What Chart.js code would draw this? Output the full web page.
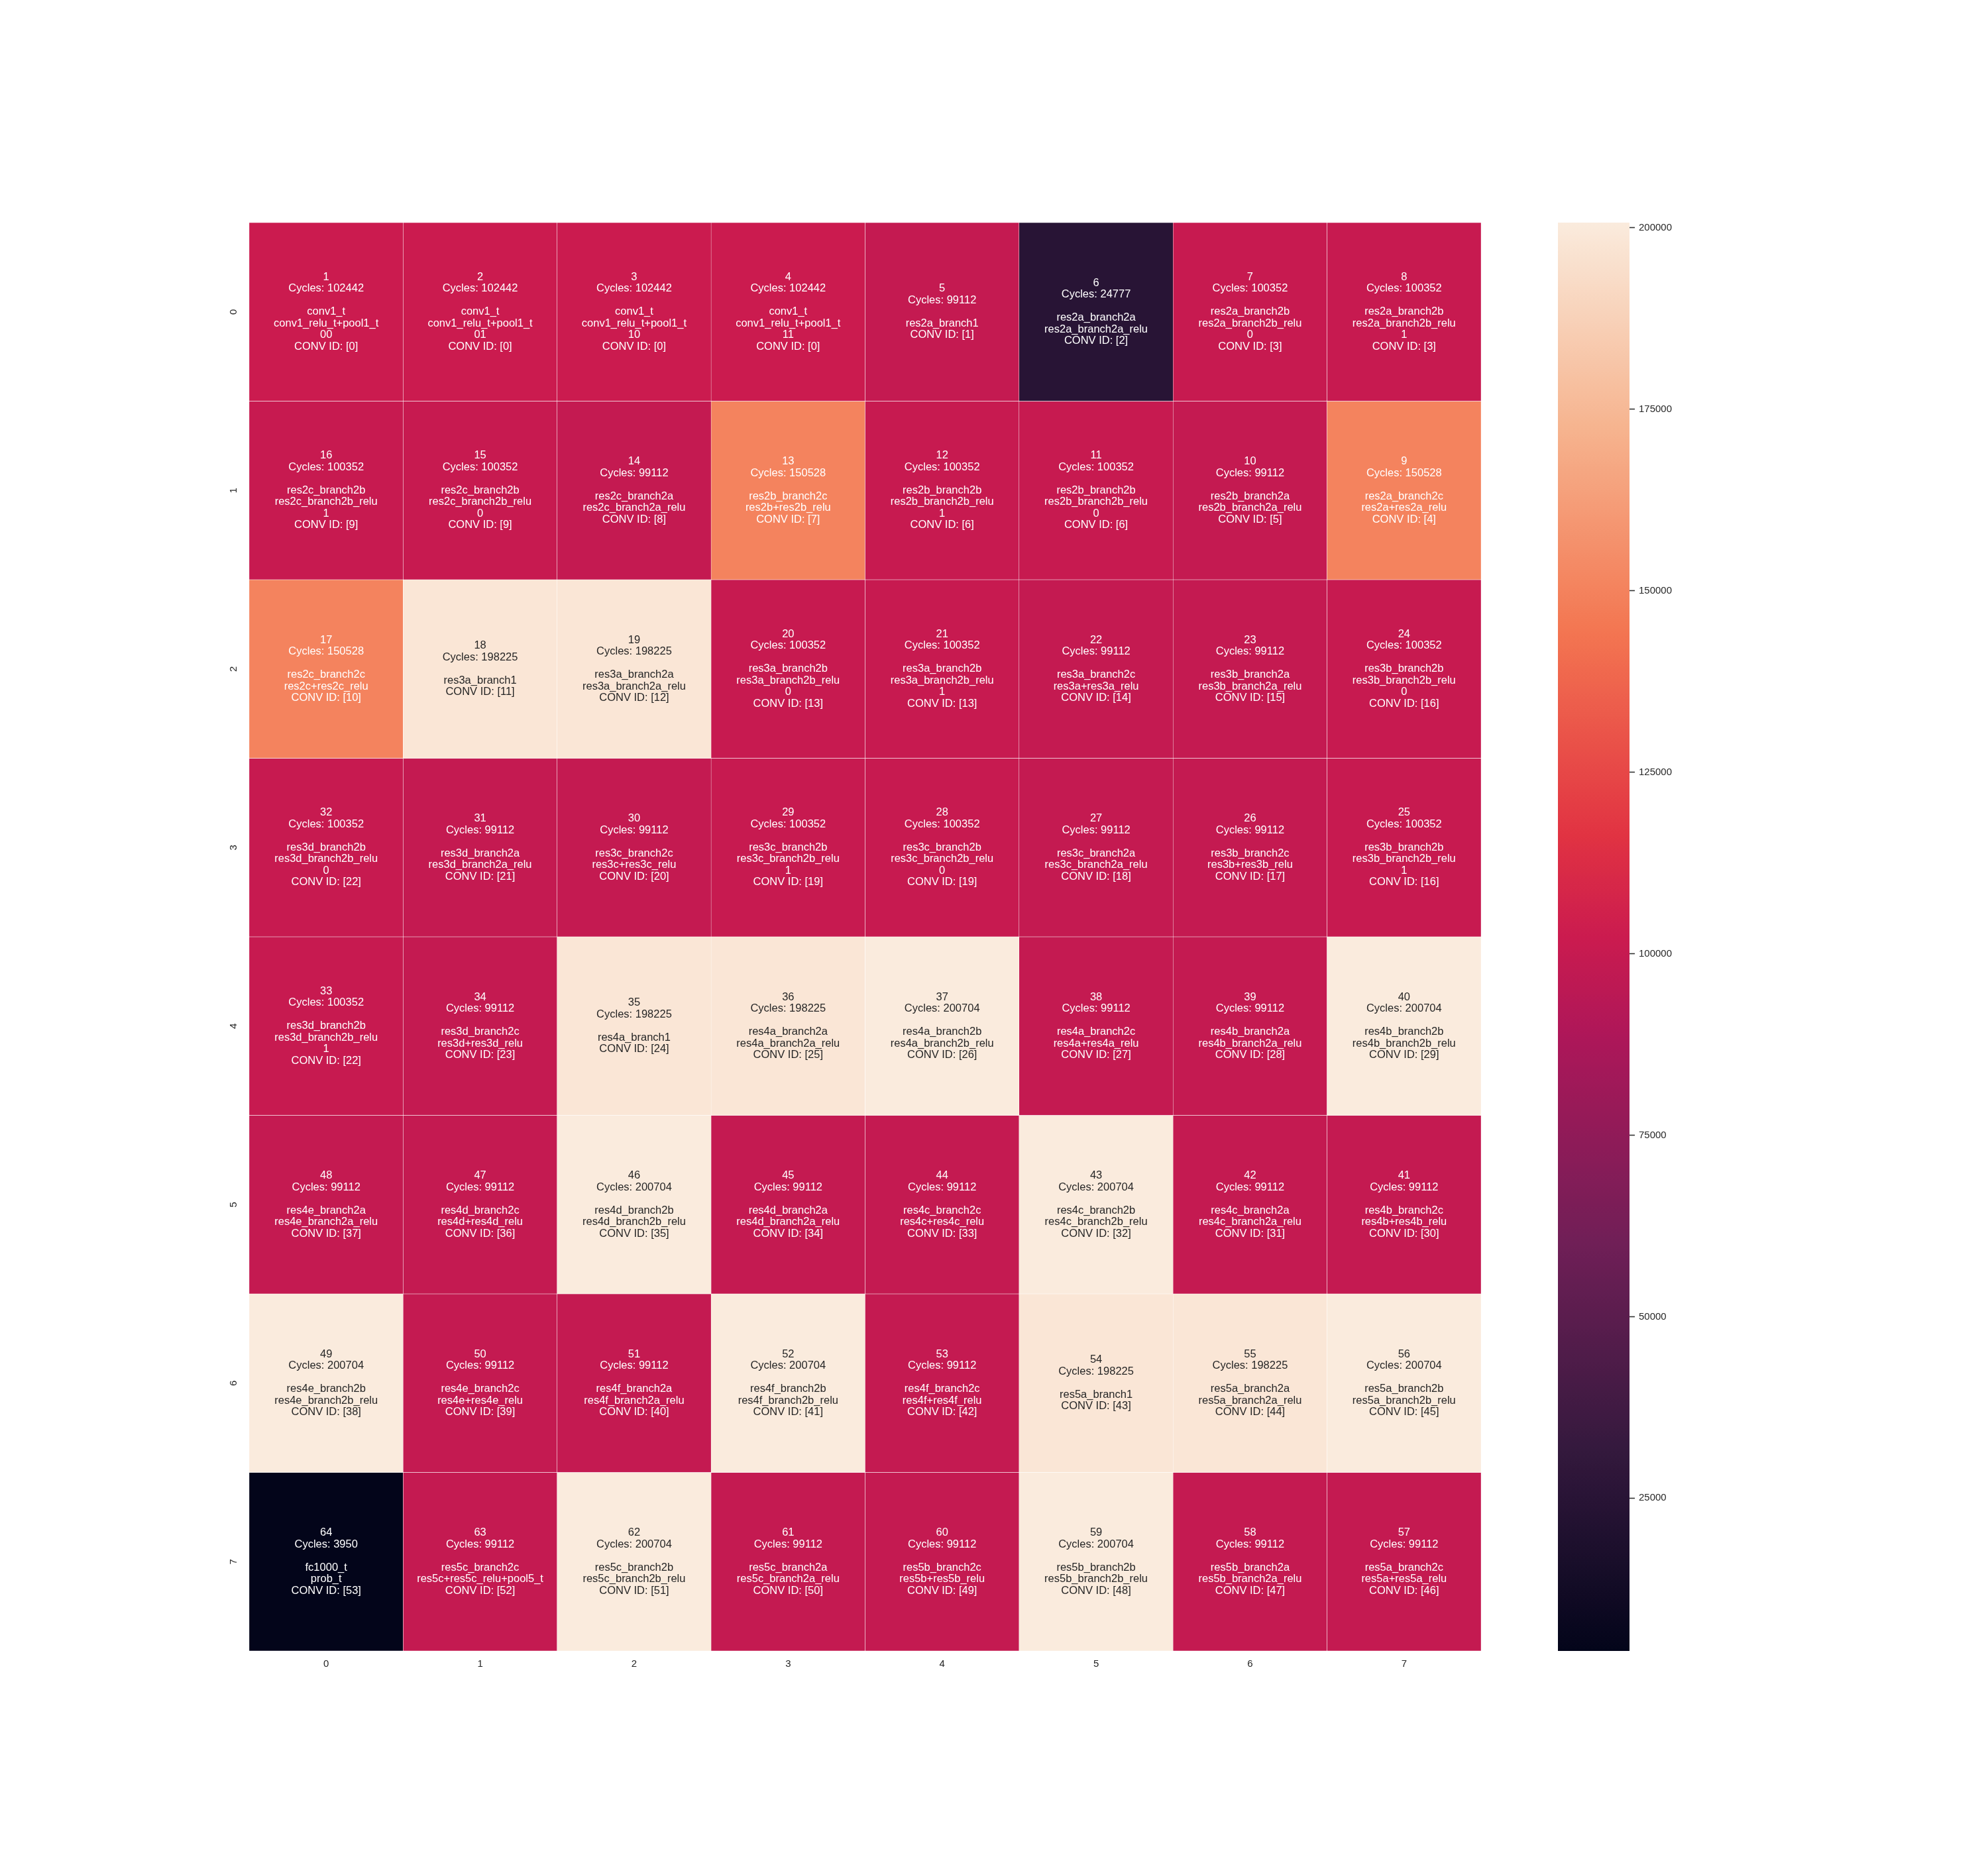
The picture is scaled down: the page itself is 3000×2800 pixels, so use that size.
<!DOCTYPE html>
<html><head><meta charset="utf-8">
<script src="https://cdn.jsdelivr.net/npm/chart.js@4.4.1/dist/chart.umd.min.js"></script>
<style>
html,body{margin:0;padding:0;background:#fff;}
#wrap{position:relative;width:3000px;height:2800px;background:#fff;}
#heat{position:absolute;left:0;top:0;}
#cbar{position:absolute;left:2300px;top:0;}
</style></head><body>
<div id="wrap">
<canvas id="heat" width="2300" height="2800"></canvas>
<canvas id="cbar" width="400" height="2800"></canvas>
</div>
<script>
const colLabels = ['0','1','2','3','4','5','6','7'];
const rowLabels = ['0','1','2','3','4','5','6','7'];

const order = [
  [1,2,3,4,5,6,7,8],
  [16,15,14,13,12,11,10,9],
  [17,18,19,20,21,22,23,24],
  [32,31,30,29,28,27,26,25],
  [33,34,35,36,37,38,39,40],
  [48,47,46,45,44,43,42,41],
  [49,50,51,52,53,54,55,56],
  [64,63,62,61,60,59,58,57]
];

const cycles = [
  [102442,102442,102442,102442,99112,24777,100352,100352],
  [100352,100352,99112,150528,100352,100352,99112,150528],
  [150528,198225,198225,100352,100352,99112,99112,100352],
  [100352,99112,99112,100352,100352,99112,99112,100352],
  [100352,99112,198225,198225,200704,99112,99112,200704],
  [99112,99112,200704,99112,99112,200704,99112,99112],
  [200704,99112,99112,200704,99112,198225,198225,200704],
  [3950,99112,200704,99112,99112,200704,99112,99112]
];

const layers = [
  ['conv1_t\nconv1_relu_t+pool1_t\n00','conv1_t\nconv1_relu_t+pool1_t\n01','conv1_t\nconv1_relu_t+pool1_t\n10','conv1_t\nconv1_relu_t+pool1_t\n11','res2a_branch1','res2a_branch2a\nres2a_branch2a_relu','res2a_branch2b\nres2a_branch2b_relu\n0','res2a_branch2b\nres2a_branch2b_relu\n1'],
  ['res2c_branch2b\nres2c_branch2b_relu\n1','res2c_branch2b\nres2c_branch2b_relu\n0','res2c_branch2a\nres2c_branch2a_relu','res2b_branch2c\nres2b+res2b_relu','res2b_branch2b\nres2b_branch2b_relu\n1','res2b_branch2b\nres2b_branch2b_relu\n0','res2b_branch2a\nres2b_branch2a_relu','res2a_branch2c\nres2a+res2a_relu'],
  ['res2c_branch2c\nres2c+res2c_relu','res3a_branch1','res3a_branch2a\nres3a_branch2a_relu','res3a_branch2b\nres3a_branch2b_relu\n0','res3a_branch2b\nres3a_branch2b_relu\n1','res3a_branch2c\nres3a+res3a_relu','res3b_branch2a\nres3b_branch2a_relu','res3b_branch2b\nres3b_branch2b_relu\n0'],
  ['res3d_branch2b\nres3d_branch2b_relu\n0','res3d_branch2a\nres3d_branch2a_relu','res3c_branch2c\nres3c+res3c_relu','res3c_branch2b\nres3c_branch2b_relu\n1','res3c_branch2b\nres3c_branch2b_relu\n0','res3c_branch2a\nres3c_branch2a_relu','res3b_branch2c\nres3b+res3b_relu','res3b_branch2b\nres3b_branch2b_relu\n1'],
  ['res3d_branch2b\nres3d_branch2b_relu\n1','res3d_branch2c\nres3d+res3d_relu','res4a_branch1','res4a_branch2a\nres4a_branch2a_relu','res4a_branch2b\nres4a_branch2b_relu','res4a_branch2c\nres4a+res4a_relu','res4b_branch2a\nres4b_branch2a_relu','res4b_branch2b\nres4b_branch2b_relu'],
  ['res4e_branch2a\nres4e_branch2a_relu','res4d_branch2c\nres4d+res4d_relu','res4d_branch2b\nres4d_branch2b_relu','res4d_branch2a\nres4d_branch2a_relu','res4c_branch2c\nres4c+res4c_relu','res4c_branch2b\nres4c_branch2b_relu','res4c_branch2a\nres4c_branch2a_relu','res4b_branch2c\nres4b+res4b_relu'],
  ['res4e_branch2b\nres4e_branch2b_relu','res4e_branch2c\nres4e+res4e_relu','res4f_branch2a\nres4f_branch2a_relu','res4f_branch2b\nres4f_branch2b_relu','res4f_branch2c\nres4f+res4f_relu','res5a_branch1','res5a_branch2a\nres5a_branch2a_relu','res5a_branch2b\nres5a_branch2b_relu'],
  ['fc1000_t\nprob_t','res5c_branch2c\nres5c+res5c_relu+pool5_t','res5c_branch2b\nres5c_branch2b_relu','res5c_branch2a\nres5c_branch2a_relu','res5b_branch2c\nres5b+res5b_relu','res5b_branch2b\nres5b_branch2b_relu','res5b_branch2a\nres5b_branch2a_relu','res5a_branch2c\nres5a+res5a_relu']
];

const convIds = [
  [0,0,0,0,1,2,3,3],
  [9,9,8,7,6,6,5,4],
  [10,11,12,13,13,14,15,16],
  [22,21,20,19,19,18,17,16],
  [22,23,24,25,26,27,28,29],
  [37,36,35,34,33,32,31,30],
  [38,39,40,41,42,43,44,45],
  [53,52,51,50,49,48,47,46]
];

const cbTicks = [25000,50000,75000,100000,125000,150000,175000,200000];

// rocket colormap anchors
const rocketStops = [
  [0.0,[3,5,26]],
  [0.1429,[53,25,62]],
  [0.2857,[112,31,87]],
  [0.4286,[173,23,89]],
  [0.5,[203,27,79]],
  [0.5714,[225,51,66]],
  [0.7143,[243,118,81]],
  [0.8571,[246,180,143]],
  [1.0,[250,235,221]]
];
function rocket(t){
  t = Math.max(0, Math.min(1, t));
  for (let k = 1; k < rocketStops.length; k++){
    const [t1,c1] = rocketStops[k], [t0,c0] = rocketStops[k-1];
    if (t <= t1){
      const f = (t - t0)/(t1 - t0);
      return c0.map((v,i)=>Math.round(v + (c1[i]-v)*f));
    }
  }
  return rocketStops[rocketStops.length-1][1];
}
const css = c => `rgb(${c[0]},${c[1]},${c[2]})`;
function textColor(c){
  const lin = c.map(v => { v/=255; return v <= 0.03928 ? v/12.92 : Math.pow((v+0.055)/1.055, 2.4); });
  const lum = 0.2126*lin[0] + 0.7152*lin[1] + 0.0722*lin[2];
  return lum > 0.408 ? '#262626' : '#ffffff';
}

const allVals = cycles.flat();
const vmin = Math.min(...allVals), vmax = Math.max(...allVals);
const norm = v => (v - vmin)/(vmax - vmin);

Chart.defaults.font.family = "'Liberation Sans', Arial, sans-serif";
Chart.defaults.color = '#262626';

const datasets = rowLabels.map((r, i) => ({
  label: 'row ' + r,
  data: colLabels.map(() => [i, i + 1]),
  backgroundColor: colLabels.map((c, j) => css(rocket(norm(cycles[i][j])))),
  borderColor: '#ffffff',
  borderWidth: 0.5,
  borderSkipped: false,
  barPercentage: 1,
  categoryPercentage: 1,
  grouped: false
}));

const annot = {
  id: 'annot',
  afterDatasetsDraw(chart){
    const ctx = chart.ctx;
    ctx.save();
    ctx.font = "16.5px 'Liberation Sans', Arial, sans-serif";
    ctx.textAlign = 'center';
    ctx.textBaseline = 'middle';
    const lh = 17.5;
    chart.data.datasets.forEach((ds, i) => {
      const meta = chart.getDatasetMeta(i);
      meta.data.forEach((el, j) => {
        const lines = [String(order[i][j]), 'Cycles: ' + cycles[i][j], '', ...layers[i][j].split('\n'), 'CONV ID: [' + convIds[i][j] + ']'];
        const cx = el.x, cy = (el.y + el.base) / 2;
        ctx.fillStyle = textColor(rocket(norm(cycles[i][j])));
        lines.forEach((ln, k) => ctx.fillText(ln, cx, cy + (k - (lines.length - 1) / 2) * lh));
      });
    });
    ctx.restore();
  }
};

new Chart(document.getElementById('heat'), {
  type: 'bar',
  data: { labels: colLabels, datasets },
  options: {
    responsive: false, animation: false, devicePixelRatio: 1,
    layout: { padding: { left: 0, right: 65, top: 336, bottom: 248 } },
    plugins: { legend: { display: false }, tooltip: { enabled: false } },
    scales: {
      x: {
        type: 'category', position: 'bottom',
        grid: { display: false, drawTicks: false }, border: { display: false },
        ticks: { color: '#262626', font: { size: 15 }, padding: 11, minRotation: 0, maxRotation: 0, autoSkip: false },
        afterFit(s){ s.height = 60; }
      },
      y: {
        type: 'linear', min: 0, max: rowLabels.length, reverse: true,
        grid: { display: false, drawTicks: false }, border: { display: false },
        afterBuildTicks(s){ s.ticks = rowLabels.map((_, i) => ({ value: i + 0.5 })); },
        ticks: { color: '#262626', font: { size: 15 }, padding: 19, minRotation: 90, maxRotation: 90, crossAlign: 'center', autoSkip: false,
                 callback: v => rowLabels[Math.floor(v)] },
        afterFit(s){ s.width = 376; }
      }
    }
  },
  plugins: [annot]
});

function cbGradient(chart){
  const ys = chart.scales.y;
  if (!chart.chartArea || !ys) return css(rocket(0.5));
  const y0 = ys.getPixelForValue(vmin), y1 = ys.getPixelForValue(vmax);
  const g = chart.ctx.createLinearGradient(0, y0, 0, y1);
  for (let k = 0; k <= 128; k++){ const t = k/128; g.addColorStop(t, css(rocket(t))); }
  return g;
}

new Chart(document.getElementById('cbar'), {
  type: 'bar',
  data: { labels: ['cb'], datasets: [{ data: [[vmin, vmax]], backgroundColor: c => cbGradient(c.chart), borderWidth: 0, barPercentage: 1, categoryPercentage: 1 }] },
  options: {
    responsive: false, animation: false, devicePixelRatio: 1,
    layout: { padding: { left: 51, right: 141, top: 336, bottom: 308 } },
    plugins: { legend: { display: false }, tooltip: { enabled: false } },
    scales: {
      x: { display: false },
      y: {
        position: 'right', min: vmin, max: vmax,
        afterBuildTicks(s){ s.ticks = cbTicks.map(v => ({ value: v })); },
        grid: { display: true, drawOnChartArea: false, drawTicks: true, tickLength: 8, tickWidth: 1.6, tickColor: '#333333' },
        border: { display: false },
        ticks: { color: '#262626', font: { size: 15 }, padding: 6, autoSkip: false, callback: v => String(v) },
        afterFit(s){ s.width = 100; }
      }
    }
  }
});
</script>
</body></html>
